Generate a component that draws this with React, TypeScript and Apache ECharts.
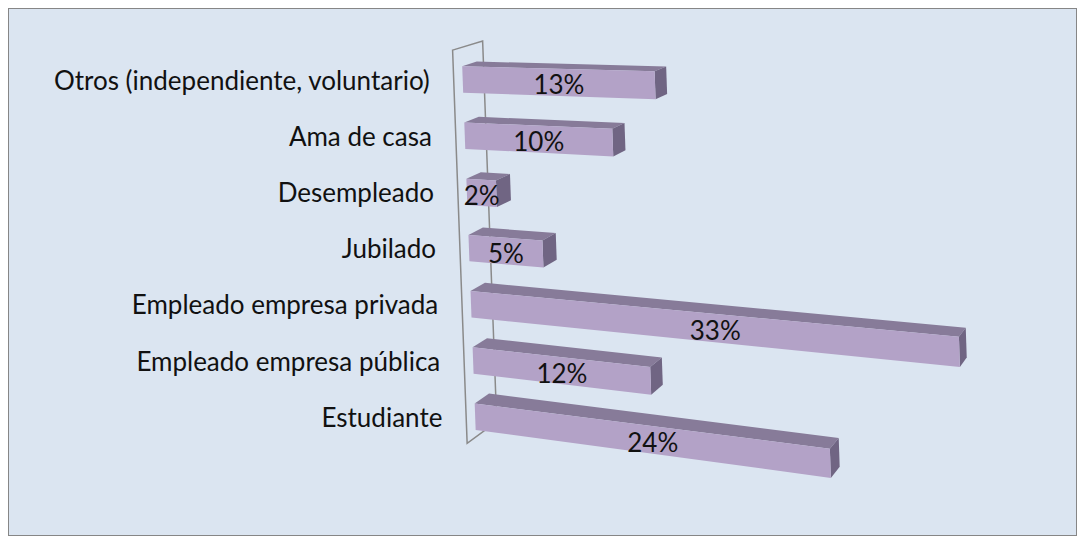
import React, { useEffect, useRef } from "react";
import * as echarts from "echarts";

// ---- data ----
const categories = [
  "Otros (independiente, voluntario)",
  "Ama de casa",
  "Desempleado",
  "Jubilado",
  "Empleado empresa privada",
  "Empleado empresa pública",
  "Estudiante",
];
const values = [13, 10, 2, 5, 33, 12, 24];
const valueLabels = values.map((v) => v + "%");
const axisMax = 35;

// ---- style ----
const FRONT = "#b3a2c7";
const TOP = "#877b99";
const SIDE = "#706583";
const BG = "#dbe5f1";
const WALL = "#8a8a8a";
const TEXT = "#111111";
const FONT = "26px Lato";

// ---- 3D-like projection parameters ----
const SHEAR = 0.037;
const S0 = 0.03;
const S1 = 0.0003;
const VP = [1391, -250];
const BAR_DEPTH = 0.0155;
const WALL_FRONT = -0.0095;
const WALL_BACK = 0.0225;
const BAR_RATIO = 0.47;

function makeProjector(api: any) {
  const o = api.coord([0, categories[0]]);
  return (fx: number, fy: number, g: number) => {
    const dx = fx - o[0];
    let x = fx + SHEAR * (fy - o[1]);
    let y = fy + (S0 + S1 * (fy - o[1])) * dx;
    x += g * (VP[0] - x);
    y += g * (VP[1] - y);
    return [x, y];
  };
}

export default function App() {
  const ref = useRef<HTMLDivElement>(null);
  useEffect(() => {
    if (!ref.current) return;
    const chart = echarts.init(ref.current, null, { renderer: "svg" });
    chart.setOption({
      animation: false,
      grid: { left: 453.7, top: 42.4, width: axisMax * 14.8, height: 7 * 56.2 },
      xAxis: { type: "value", min: 0, max: axisMax, show: false },
      yAxis: { type: "category", data: categories, inverse: true, show: false },
      series: [
        {
          type: "custom",
          z: 1,
          data: [[0, categories[0]]],
          renderItem: (params: any, api: any) => {
            const P = makeProjector(api);
            const band = api.size([0, 1])[1];
            const x0 = api.coord([0, categories[0]])[0];
            const top = api.coord([0, categories[0]])[1] - band / 2 - 4;
            const bottom = api.coord([0, categories[categories.length - 1]])[1] + band / 2 - 8;
            const pts = [
              P(x0, top, WALL_FRONT),
              P(x0, top, WALL_BACK),
              P(x0, bottom, WALL_BACK),
              P(x0, bottom, WALL_FRONT),
            ];
            return {
              type: "polygon",
              shape: { points: pts },
              style: { fill: "none", stroke: WALL, lineWidth: 1.5 },
            };
          },
        },
        {
          type: "custom",
          z: 2,
          data: values.map((v, i) => [v, categories[i]]),
          renderItem: (params: any, api: any) => {
            const P = makeProjector(api);
            const i = params.dataIndex;
            const v = api.value(0);
            const band = api.size([0, 1])[1];
            const h = band * BAR_RATIO;
            const p0 = api.coord([0, categories[i]]);
            const p1 = api.coord([v, categories[i]]);
            const cy = p0[1];
            const ty = cy - h / 2;
            const by = cy + h / 2;
            const FTL = P(p0[0], ty, 0);
            const FTR = P(p1[0], ty, 0);
            const FBR = P(p1[0], by, 0);
            const FBL = P(p0[0], by, 0);
            const BTL = P(p0[0], ty, BAR_DEPTH);
            const BTR = P(p1[0], ty, BAR_DEPTH);
            const BBR = P(p1[0], by, BAR_DEPTH);
            const mid = P((p0[0] + p1[0]) / 2, cy, 0);
            const wallPt = P(p0[0], cy, WALL_FRONT);
            return {
              type: "group",
              children: [
                { type: "polygon", shape: { points: [FTL, FTR, BTR, BTL] }, style: { fill: TOP } },
                { type: "polygon", shape: { points: [FTR, FBR, BBR, BTR] }, style: { fill: SIDE } },
                { type: "polygon", shape: { points: [FTL, FTR, FBR, FBL] }, style: { fill: FRONT } },
                {
                  type: "text",
                  x: mid[0],
                  y: mid[1] + 2,
                  style: {
                    text: valueLabels[i],
                    fill: TEXT,
                    font: FONT,
                    align: "center",
                    verticalAlign: "middle",
                    textAlign: "center",
                    textVerticalAlign: "middle",
                  },
                },
                {
                  type: "text",
                  x: wallPt[0] - 24,
                  y: cy,
                  style: {
                    text: categories[i],
                    fill: TEXT,
                    font: FONT,
                    align: "right",
                    verticalAlign: "middle",
                    textAlign: "right",
                    textVerticalAlign: "middle",
                  },
                },
              ],
            };
          },
        },
      ],
    });
    return () => chart.dispose();
  }, []);
  return (
    <div
      ref={ref}
      style={{
        width: 1069,
        height: 528,
        border: "1px solid #868686",
        boxSizing: "border-box",
        background: BG,
      }}
    />
  );
}
